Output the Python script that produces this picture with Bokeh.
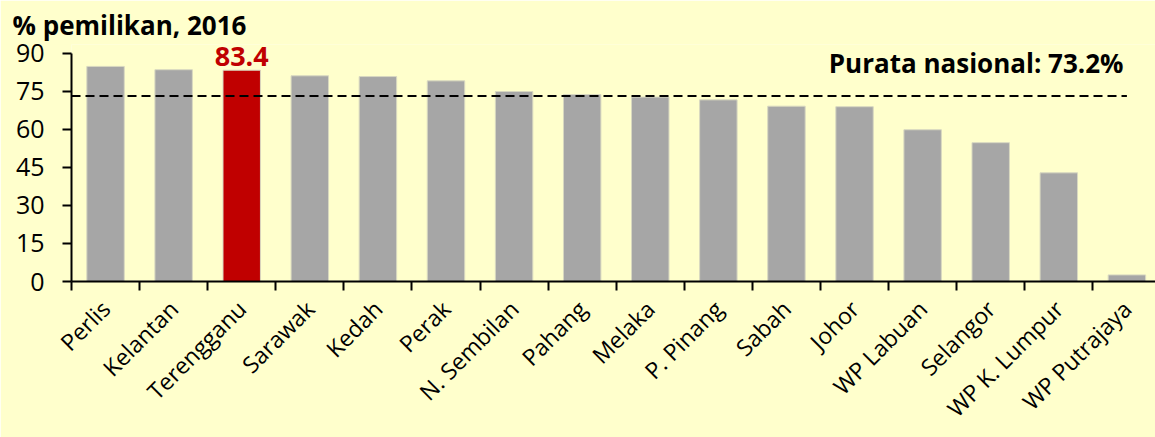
import math
from bokeh.plotting import figure
from bokeh.models import (ColumnDataSource, FixedTicker, Label, Range1d, Title)
from bokeh.embed import file_html
from bokeh.resources import INLINE

# ---- data ----
states = ["Perlis", "Kelantan", "Terengganu", "Sarawak", "Kedah", "Perak",
          "N. Sembilan", "Pahang", "Melaka", "P. Pinang", "Sabah", "Johor",
          "WP Labuan", "Selangor", "WP K. Lumpur", "WP Putrajaya"]
ownership = [84.9, 83.6, 83.4, 81.2, 80.9, 79.2, 75.0, 73.8, 72.8, 71.7,
             69.2, 69.0, 59.9, 54.8, 42.9, 2.6]
highlight = "Terengganu"
national_avg = 73.2
y_ticks = [0, 15, 30, 45, 60, 75, 90]

BG = "#FFFFCC"
GREY = "#A6A6A6"
RED = "#C00000"
FONT = "Open Sans"

n = len(states)
centers = [i + 0.5 for i in range(n)]
boundaries = list(range(n + 1))
colors = [RED if s == highlight else GREY for s in states]
src = ColumnDataSource(dict(x=centers, top=ownership, color=colors))

p = figure(width=1155, height=437, output_backend="svg", toolbar_location=None,
           x_range=Range1d(0, 15.92), y_range=Range1d(0, 93.55),
           min_border_left=71, min_border_right=0, min_border_top=44,
           min_border_bottom=156)
p.background_fill_color = BG
p.border_fill_color = BG
p.outline_line_color = None
p.xgrid.visible = False
p.ygrid.visible = False

p.vbar(x="x", top="top", width=0.55, fill_color="color", line_color="#D8D8C0",
       line_width=1, source=src)

# national average dashed line
p.line([0, n - 0.5], [national_avg, national_avg], line_color="black",
       line_width=2, line_dash="9 5")

# y axis
ya = p.yaxis[0]
ya.ticker = FixedTicker(ticks=y_ticks)
ya.bounds = (y_ticks[0], y_ticks[-1])
ya.axis_line_color = "black"
ya.axis_line_width = 2
ya.major_tick_line_color = "black"
ya.major_tick_line_width = 2
ya.major_tick_out = 9
ya.major_tick_in = 0
ya.minor_tick_line_color = None
ya.major_label_standoff = 18
ya.major_label_text_font = FONT
ya.major_label_text_font_size = "25px"
ya.major_label_text_color = "black"

# x axis: labels at category centres, tick marks at category boundaries
xa = p.xaxis[0]
xa.ticker = FixedTicker(ticks=centers, minor_ticks=boundaries)
xa.major_label_overrides = {c: s for c, s in zip(centers, states)}
xa.axis_line_color = "black"
xa.axis_line_width = 2
xa.major_tick_line_color = None
xa.major_tick_out = 0
xa.major_tick_in = 0
xa.minor_tick_line_color = "black"
xa.minor_tick_line_width = 2
xa.minor_tick_out = 9
xa.minor_tick_in = 0
xa.major_label_orientation = math.pi / 4
xa.major_label_standoff = 14
xa.major_label_text_font = FONT
xa.major_label_text_font_size = "23px"
xa.major_label_text_color = "black"

# title
p.title = Title(text="% pemilikan, 2016", text_font=FONT, text_font_size="26px",
                text_font_style="bold", text_color="black", align="left",
                offset=-59, standoff=3)

# annotations
p.add_layout(Label(x=n - 0.55, y=86.1, text="Purata nasional: 73.2%",
                   text_font=FONT, text_font_size="26px", text_font_style="bold",
                   text_align="right", text_baseline="alphabetic", text_color="black"))
hi = states.index(highlight)
p.add_layout(Label(x=centers[hi], y=ownership[hi], y_offset=14,
                   text=f"{ownership[hi]:.1f}", text_font=FONT, text_font_size="27px",
                   text_font_style="bold", text_align="center",
                   text_baseline="alphabetic", text_color=RED))

open("out.html", "w").write(file_html(p, INLINE))
